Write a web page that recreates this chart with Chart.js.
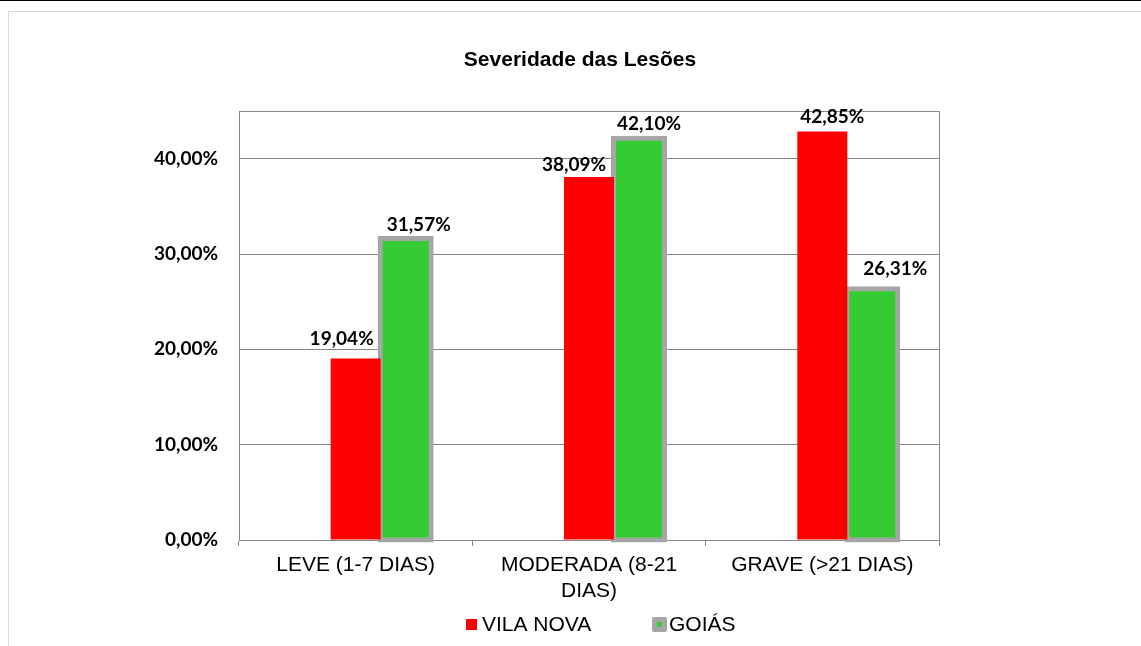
<!DOCTYPE html>
<html lang="pt-BR">
<head>
<meta charset="utf-8">
<title>Severidade das Lesões</title>
<script src="https://cdn.jsdelivr.net/npm/chart.js@4.4.1/dist/chart.umd.min.js"></script>
<style>
    html, body { margin: 0; padding: 0; background: #fff; overflow: hidden; }
    #linha-topo { position: absolute; left: 0; top: 0; width: 1141px; height: 1px; background: #000; }
    #moldura { position: absolute; left: 8px; top: 11px; width: 1200px; height: 700px; border: 1px solid #d9d9d9; }
    #grafico { position: absolute; left: 0; top: 0; }
</style>
</head>
<body>
<div id="linha-topo"></div>
<div id="moldura"></div>
<canvas id="grafico" width="1141" height="646"></canvas>
<script>
// Severidade das Lesões
const categorias = ['LEVE (1-7 DIAS)', 'MODERADA (8-21 DIAS)', 'GRAVE (>21 DIAS)'];
const vilaNova = [19.04, 38.09, 42.85];
const goias = [31.57, 42.10, 26.31];
const serieVazia = [null, null, null]; // o Excel tinha uma 1a série vazia, por isso as barras ficam deslocadas
const ticksY = [0, 10, 20, 30, 40];
const eixoMax = 45;

const VERMELHO = '#FF0000';
const VERDE = '#33CC33';
const CINZA = '#A6A6A6';
const LINHA = '#868686';

// deslocamento manual dos rótulos (dx, distância acima do topo) como no original
const ajusteRotulos = {
    1: [[-14, 20], [-15, 12], [10, 15]],
    2: [[13, 14], [10, 15], [23, 20]]
};

const formatar = v => v.toFixed(2).replace('.', ',') + '%';

const extras = {
    id: 'extras',
    afterDraw(chart) {
        const c = chart.ctx;
        const area = chart.chartArea;
        const y = chart.scales.y;
        c.save();

        // borda do plot (topo e direita)
        c.strokeStyle = LINHA;
        c.lineWidth = 1;
        c.beginPath();
        c.moveTo(area.left, area.top + 0.5);
        c.lineTo(area.right + 0.5, area.top + 0.5);
        c.lineTo(area.right + 0.5, area.bottom);
        c.stroke();

        // título
        c.fillStyle = '#000';
        c.textAlign = 'center';
        c.textBaseline = 'middle';
        c.font = 'bold 21px "Liberation Sans", Arial, sans-serif';
        c.fillText('Severidade das Lesões', 580, 60);

        // rótulos de dados
        c.font = 'bold 19px Lato, sans-serif';
        [1, 2].forEach(ds => {
            const meta = chart.getDatasetMeta(ds);
            chart.data.datasets[ds].data.forEach((v, i) => {
                const bar = meta.data[i];
                const aj = ajusteRotulos[ds][i];
                c.fillText(formatar(v), bar.x + aj[0], y.getPixelForValue(v) - aj[1]);
            });
        });

        // legenda
        c.textAlign = 'left';
        c.font = '21px "Liberation Sans", Arial, sans-serif';
        c.fillStyle = VERMELHO;
        c.fillRect(466, 619, 11, 11);
        c.fillStyle = '#000';
        c.fillText(chart.data.datasets[1].label, 482, 625);

        c.fillStyle = CINZA;
        c.beginPath();
        c.roundRect(652, 617, 15, 15, 2);
        c.fill();
        c.fillStyle = VERDE;
        c.fillRect(657, 622, 5, 5);
        c.fillStyle = '#000';
        c.fillText(chart.data.datasets[2].label, 669, 625);

        c.restore();
    }
};

const ctx = document.getElementById('grafico').getContext('2d');
Chart.defaults.font.family = '"Liberation Sans", Arial, sans-serif';
Chart.defaults.color = '#000';

const grafico = new Chart(ctx, {
    type: 'bar',
    data: {
        labels: categorias,
        datasets: [
            { label: '', data: serieVazia },
            {
                label: 'VILA NOVA',
                data: vilaNova,
                backgroundColor: VERMELHO,
                borderWidth: 0
            },
            {
                label: 'GOIÁS',
                data: goias,
                backgroundColor: VERDE,
                borderColor: CINZA,
                borderWidth: 5,
                borderSkipped: false,
                inflateAmount: 3,
                clip: false
            }
        ]
    },
    options: {
        responsive: false,
        animation: false,
        categoryPercentage: 0.643,
        barPercentage: 1,
        layout: { padding: { left: 0, right: 202, top: 111, bottom: 0 } },
        plugins: {
            legend: { display: false },
            title: { display: false },
            tooltip: { enabled: false }
        },
        scales: {
            x: {
                afterFit: s => { s.height = 106; },
                grid: {
                    offset: true,
                    drawOnChartArea: false,
                    drawTicks: true,
                    tickLength: 6,
                    color: LINHA
                },
                border: { display: true, color: LINHA },
                ticks: {
                    padding: 7,
                    maxRotation: 0,
                    autoSkip: false,
                    font: { size: 21, lineHeight: 1.2 },
                    callback: function (valor) {
                        const t = this.getLabelForValue(valor);
                        if (t.length <= 16) return t;
                        const k = t.lastIndexOf(' ');
                        return [t.slice(0, k), t.slice(k + 1)];
                    }
                }
            },
            y: {
                min: 0,
                max: eixoMax,
                afterFit: s => { s.width = 239; },
                afterBuildTicks: s => { s.ticks = ticksY.map(v => ({ value: v })); },
                grid: { color: LINHA, drawTicks: false },
                border: { display: true, color: LINHA },
                ticks: {
                    padding: 21,
                    font: { family: 'Lato, sans-serif', size: 19, weight: 'bold' },
                    callback: v => formatar(v)
                }
            }
        }
    },
    plugins: [extras]
});
</script>
</body>
</html>
